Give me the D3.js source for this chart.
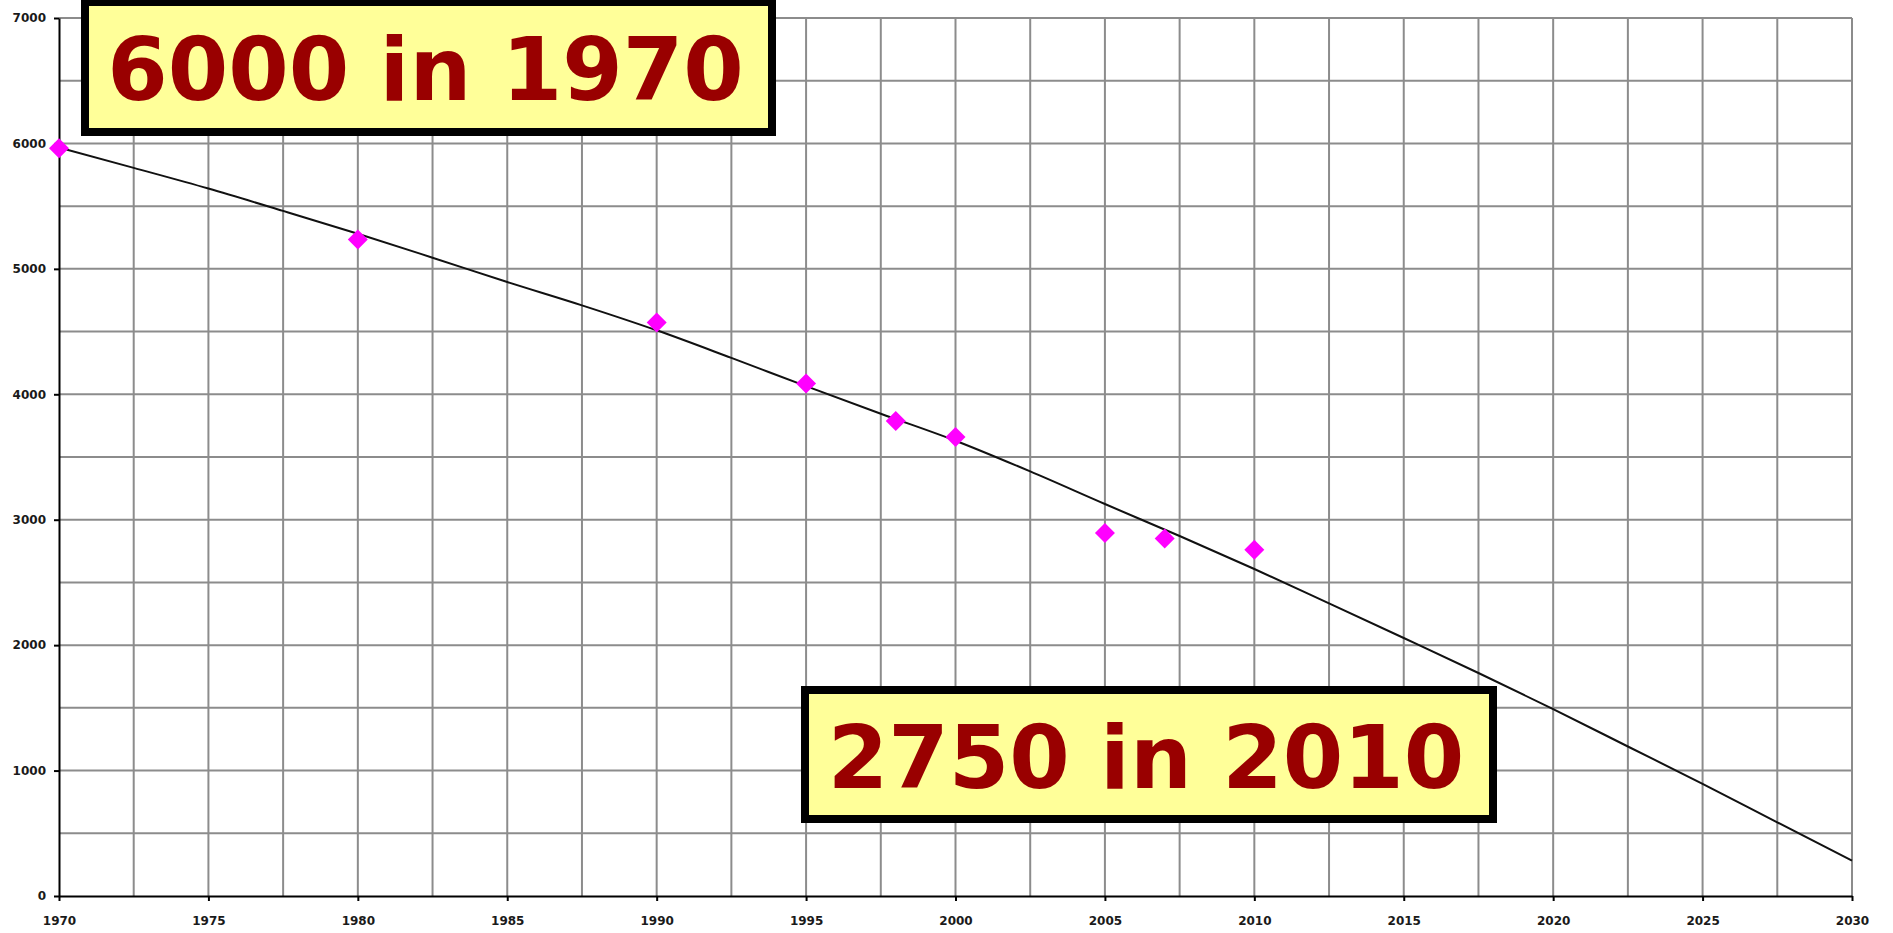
<!DOCTYPE html>
<html>
<head>
<meta charset="utf-8">
<script src="https://cdn.jsdelivr.net/npm/d3@7"></script>
<style>
  html, body { margin: 0; padding: 0; background: #fff; }
  svg { display: block; }
  .tick text { font-family: 'DejaVu Sans', Verdana, sans-serif; font-weight: bold; font-size: 12px; fill: #1a1a1a; }
  .callout text { font-family: 'DejaVu Sans', Verdana, sans-serif; font-weight: bold; fill: #990000; }
</style>
</head>
<body>
<div id="chart"></div>
<script>
// observed values
const years = [1970, 1980, 1990, 1995, 1998, 2000, 2005, 2007, 2010];
const counts = [5962, 5235, 4572, 4085, 3787, 3660, 2895, 2850, 2760];

// trend line
const trendYears = [1970, 1972.5, 1975, 1977.5, 1980, 1982.5, 1985, 1987.5, 1990, 1992.5,
  1995, 1997.5, 2000, 2002.5, 2005, 2007.5, 2010, 2012.5, 2015, 2017.5,
  2020, 2022.5, 2025, 2027.5, 2030];
const trendValues = [5967, 5805, 5640, 5462, 5280, 5089, 4895, 4709, 4510, 4290,
  4065, 3845, 3630, 3385, 3125, 2870, 2607, 2333, 2057, 1778,
  1490, 1192, 894, 587, 282];

const xTicks = [1970, 1975, 1980, 1985, 1990, 1995, 2000, 2005, 2010, 2015, 2020, 2025, 2030];
const yTicks = [0, 1000, 2000, 3000, 4000, 5000, 6000, 7000];
const xGrid = [1972.5, 1975, 1977.5, 1980, 1982.5, 1985, 1987.5, 1990, 1992.5, 1995, 1997.5,
  2000, 2002.5, 2005, 2007.5, 2010, 2012.5, 2015, 2017.5, 2020, 2022.5, 2025, 2027.5, 2030];
const yGrid = [500, 1000, 1500, 2000, 2500, 3000, 3500, 4000, 4500, 5000, 5500, 6000, 6500, 7000];

const callouts = ['6000 in 1970', '2750 in 2010'];

const W = 1893, H = 933;
const margin = { top: 18, right: 41, bottom: 37, left: 59 };
const width = W - margin.left - margin.right;
const height = H - margin.top - margin.bottom;

const svg = d3.select('#chart').append('svg')
  .attr('width', W)
  .attr('height', H);

const g = svg.append('g')
  .attr('transform', `translate(${margin.left}, ${margin.top})`);

const x = d3.scaleLinear().domain([1970, 2030]).range([0, width]);
const y = d3.scaleLinear().domain([0, 7000]).range([height, 0]);

// grid
g.append('g')
  .selectAll('line')
  .data(xGrid)
  .enter()
  .append('line')
  .attr('x1', d => x(d))
  .attr('x2', d => x(d))
  .attr('y1', 0)
  .attr('y2', height)
  .attr('stroke', '#8c8c8c')
  .attr('stroke-width', 2);

g.append('g')
  .selectAll('line')
  .data(yGrid)
  .enter()
  .append('line')
  .attr('x1', 0)
  .attr('x2', width)
  .attr('y1', d => y(d))
  .attr('y2', d => y(d))
  .attr('stroke', '#8c8c8c')
  .attr('stroke-width', 2);

// axes
const xAxis = d3.axisBottom(x)
  .tickValues(xTicks)
  .tickFormat(d3.format('d'))
  .tickSizeInner(5)
  .tickSizeOuter(0)
  .tickPadding(15);

const yAxis = d3.axisLeft(y)
  .tickValues(yTicks)
  .tickFormat(d3.format('d'))
  .tickSizeInner(5)
  .tickSizeOuter(0)
  .tickPadding(8);

const gx = g.append('g')
  .attr('transform', `translate(0, ${height})`)
  .call(xAxis);
const gy = g.append('g').call(yAxis);

[gx, gy].forEach(a => {
  a.select('.domain').attr('stroke', '#000').attr('stroke-width', 2);
  a.selectAll('.tick line').attr('stroke', '#000').attr('stroke-width', 2);
  a.selectAll('.tick text').attr('font-family', null).attr('font-size', null);
});

// trend line
const line = d3.line()
  .x((d, i) => x(trendYears[i]))
  .y(d => y(d))
  .curve(d3.curveMonotoneX);

g.append('path')
  .datum(trendValues)
  .attr('d', line)
  .attr('fill', 'none')
  .attr('stroke', '#111')
  .attr('stroke-width', 2);

// points
const diamond = d3.symbol().type(d3.symbolSquare).size(200);
g.append('g')
  .selectAll('path')
  .data(counts)
  .enter()
  .append('path')
  .attr('d', diamond)
  .attr('transform', (d, i) => `translate(${x(years[i])}, ${y(d)}) rotate(45)`)
  .attr('fill', '#ff00ff');

// callout boxes
const boxes = [
  { left: 85, top: 2, w: 687, h: 130, base: 100 },
  { left: 805, top: 690, w: 688, h: 129, base: 788 }
];

const callout = svg.append('g').attr('class', 'callout');
boxes.forEach((b, i) => {
  callout.append('rect')
    .attr('x', b.left)
    .attr('y', b.top)
    .attr('width', b.w)
    .attr('height', b.h)
    .attr('fill', '#ffff99')
    .attr('stroke', '#000')
    .attr('stroke-width', 8);
  callout.append('text')
    .attr('x', b.left + b.w / 2 - 3)
    .attr('y', b.base)
    .attr('text-anchor', 'middle')
    .attr('font-size', 87)
    .text(callouts[i]);
});
</script>
</body>
</html>
